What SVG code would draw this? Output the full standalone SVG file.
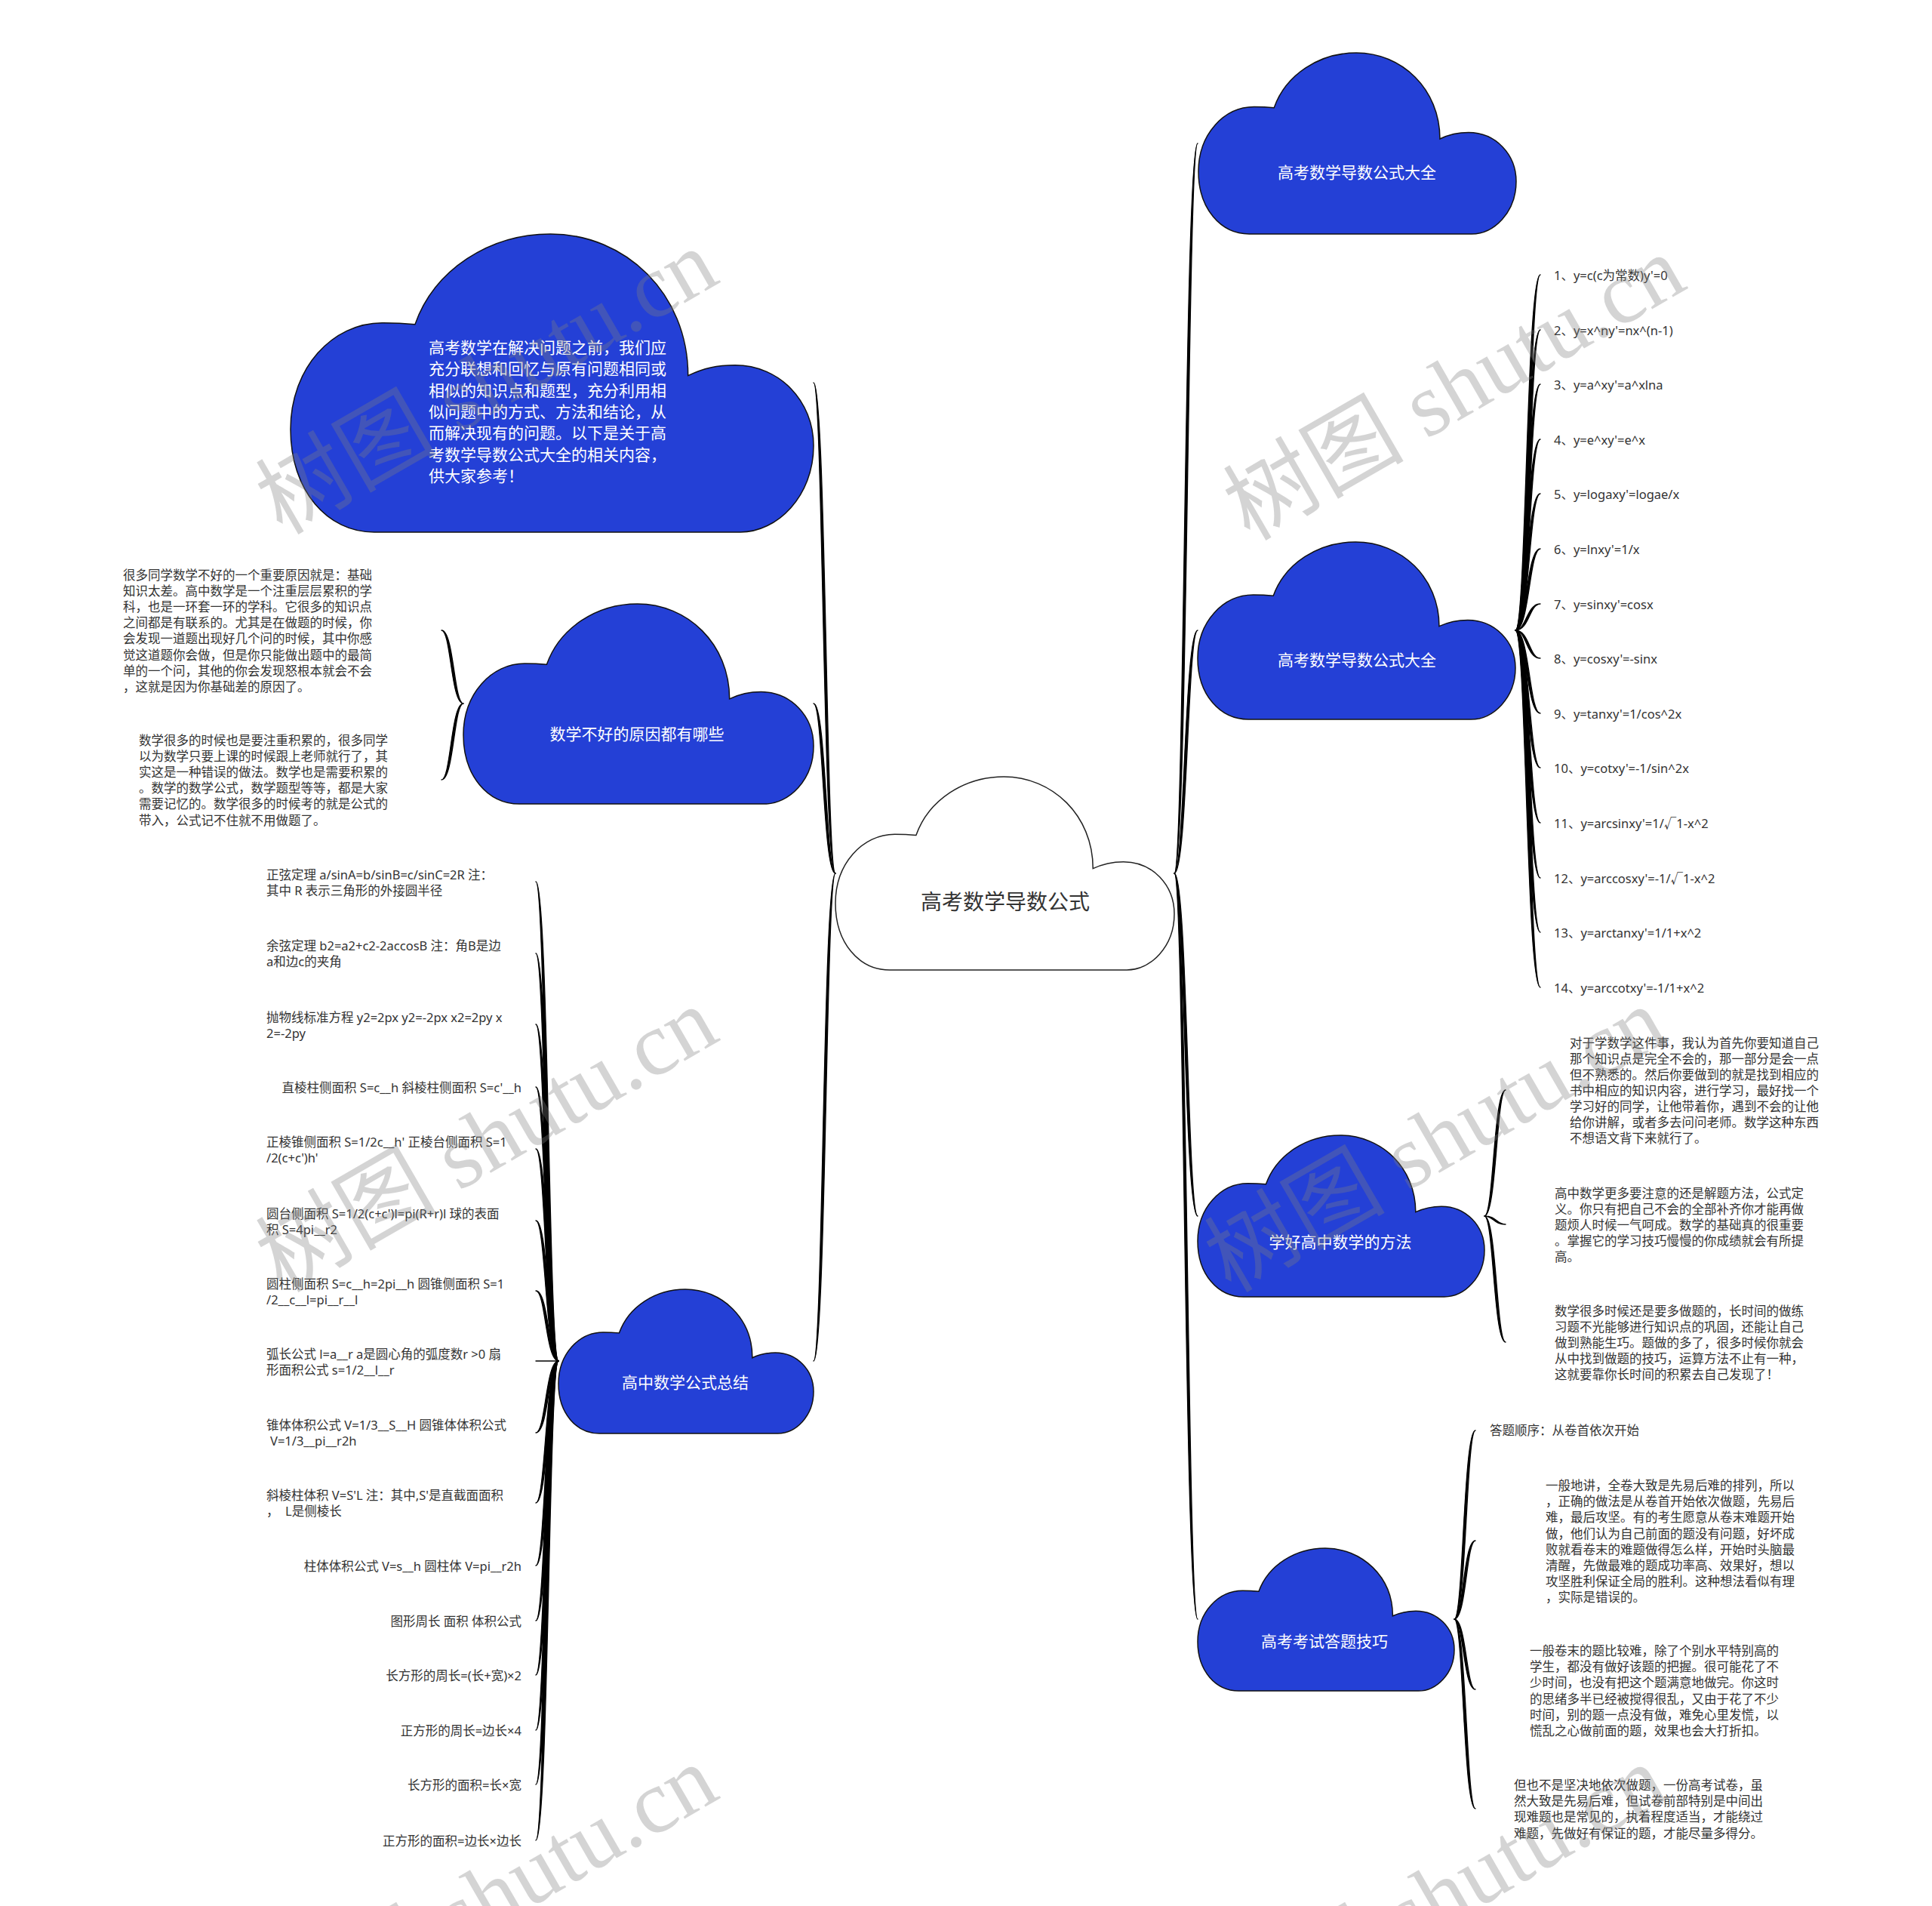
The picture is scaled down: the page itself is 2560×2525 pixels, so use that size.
<svg xmlns="http://www.w3.org/2000/svg" xmlns:xlink="http://www.w3.org/1999/xlink" width="2560" height="2525" viewBox="0 0 2560 2525">
<style>
.t{font-family:'Noto Sans','Noto Sans CJK SC',sans-serif;font-size:16.5px;fill:#333;dominant-baseline:central}
.e{text-anchor:end}
.lb{font-family:'Noto Sans CJK SC','Noto Sans',sans-serif;font-size:21px;fill:#fff;text-anchor:middle;dominant-baseline:central}
.cb{fill:#2440d6;stroke:#111;stroke-width:1.5}
.cw{fill:#fff;stroke:#222;stroke-width:1.5}
.wm{font-family:'Liberation Serif','Noto Sans CJK SC',serif;font-size:120px;fill:#808080;opacity:.33;text-anchor:middle;dominant-baseline:central}
</style>
<defs>
<path id="cloud" vector-effect="non-scaling-stroke" d="M238,303 C275,120 380,0 497,0 C640,0 760,200 760,475 C790,450 815,440 850,440 C935,440 1000,560 1000,710 C1000,880 930,1000 860,1000 L160,1000 C70,1000 0,860 0,655 C0,450 80,298 175,298 C200,298 220,300 238,303 Z"/>
</defs>
<rect width="2560" height="2525" fill="#fff"/>

<g id="connectors" fill="#000" stroke="#000" stroke-width="1.3" stroke-linejoin="round">
<path d="M1107,1157 C1090.5,1157 1090.5,507 1078,507 C1094.5,507 1094.5,1157 1107,1157Z"/>
<path d="M1107,1157 C1090.5,1157 1090.5,932 1078,932 C1094.5,932 1094.5,1157 1107,1157Z"/>
<path d="M1107,1157 C1090.5,1157 1090.5,1803 1078,1803 C1094.5,1803 1094.5,1157 1107,1157Z"/>
<path d="M1556,1157 C1569.5,1157 1569.5,190 1587,190 C1573.5,190 1573.5,1157 1556,1157Z"/>
<path d="M1556,1157 C1569.5,1157 1569.5,835 1587,835 C1573.5,835 1573.5,1157 1556,1157Z"/>
<path d="M1556,1157 C1569.5,1157 1569.5,1611 1587,1611 C1573.5,1611 1573.5,1157 1556,1157Z"/>
<path d="M1556,1157 C1569.5,1157 1569.5,2145 1587,2145 C1573.5,2145 1573.5,1157 1556,1157Z"/>
<path d="M2008,835 C2022.5,835 2022.5,364 2041,364 C2026.5,364 2026.5,835 2008,835Z"/>
<path d="M2008,835 C2022.5,835 2022.5,437 2041,437 C2026.5,437 2026.5,835 2008,835Z"/>
<path d="M2008,835 C2022.5,835 2022.5,509 2041,509 C2026.5,509 2026.5,835 2008,835Z"/>
<path d="M2008,835 C2022.5,835 2022.5,582 2041,582 C2026.5,582 2026.5,835 2008,835Z"/>
<path d="M2008,835 C2022.5,835 2022.5,654 2041,654 C2026.5,654 2026.5,835 2008,835Z"/>
<path d="M2008,835 C2022.5,835 2022.5,727 2041,727 C2026.5,727 2026.5,835 2008,835Z"/>
<path d="M2008,835 C2022.5,835 2022.5,800 2041,800 C2026.5,800 2026.5,835 2008,835Z"/>
<path d="M2008,835 C2022.5,835 2022.5,872 2041,872 C2026.5,872 2026.5,835 2008,835Z"/>
<path d="M2008,835 C2022.5,835 2022.5,945 2041,945 C2026.5,945 2026.5,835 2008,835Z"/>
<path d="M2008,835 C2022.5,835 2022.5,1017 2041,1017 C2026.5,1017 2026.5,835 2008,835Z"/>
<path d="M2008,835 C2022.5,835 2022.5,1090 2041,1090 C2026.5,1090 2026.5,835 2008,835Z"/>
<path d="M2008,835 C2022.5,835 2022.5,1163 2041,1163 C2026.5,1163 2026.5,835 2008,835Z"/>
<path d="M2008,835 C2022.5,835 2022.5,1235 2041,1235 C2026.5,1235 2026.5,835 2008,835Z"/>
<path d="M2008,835 C2022.5,835 2022.5,1308 2041,1308 C2026.5,1308 2026.5,835 2008,835Z"/>
<path d="M1967,1611 C1979,1611 1979,1444 1995,1444 C1983,1444 1983,1611 1967,1611Z"/>
<path d="M1967,1611 C1979,1611 1979,1622 1995,1622 C1983,1622 1983,1611 1967,1611Z"/>
<path d="M1967,1611 C1979,1611 1979,1778 1995,1778 C1983,1778 1983,1611 1967,1611Z"/>
<path d="M1927,2145 C1939,2145 1939,1895 1955,1895 C1943,1895 1943,2145 1927,2145Z"/>
<path d="M1927,2145 C1939,2145 1939,2041 1955,2041 C1943,2041 1943,2145 1927,2145Z"/>
<path d="M1927,2145 C1939,2145 1939,2238 1955,2238 C1943,2238 1943,2145 1927,2145Z"/>
<path d="M1927,2145 C1939,2145 1939,2396 1955,2396 C1943,2396 1943,2145 1927,2145Z"/>
<path d="M614,932 C597.5,932 597.5,835 585,835 C601.5,835 601.5,932 614,932Z"/>
<path d="M614,932 C597.5,932 597.5,1033 585,1033 C601.5,1033 601.5,932 614,932Z"/>
<path d="M740,1803 C723,1803 723,1168 710,1168 C727,1168 727,1803 740,1803Z"/>
<path d="M740,1803 C723,1803 723,1263 710,1263 C727,1263 727,1803 740,1803Z"/>
<path d="M740,1803 C723,1803 723,1357 710,1357 C727,1357 727,1803 740,1803Z"/>
<path d="M740,1803 C723,1803 723,1440 710,1440 C727,1440 727,1803 740,1803Z"/>
<path d="M740,1803 C723,1803 723,1522 710,1522 C727,1522 727,1803 740,1803Z"/>
<path d="M740,1803 C723,1803 723,1617 710,1617 C727,1617 727,1803 740,1803Z"/>
<path d="M740,1803 C723,1803 723,1710 710,1710 C727,1710 727,1803 740,1803Z"/>
<path d="M740,1803 C723,1803 723,1803 710,1803 C727,1803 727,1803 740,1803Z"/>
<path d="M740,1803 C723,1803 723,1898 710,1898 C727,1898 727,1803 740,1803Z"/>
<path d="M740,1803 C723,1803 723,1991 710,1991 C727,1991 727,1803 740,1803Z"/>
<path d="M740,1803 C723,1803 723,2074 710,2074 C727,2074 727,1803 740,1803Z"/>
<path d="M740,1803 C723,1803 723,2147 710,2147 C727,2147 727,1803 740,1803Z"/>
<path d="M740,1803 C723,1803 723,2219 710,2219 C727,2219 727,1803 740,1803Z"/>
<path d="M740,1803 C723,1803 723,2292 710,2292 C727,2292 727,1803 740,1803Z"/>
<path d="M740,1803 C723,1803 723,2364 710,2364 C727,2364 727,1803 740,1803Z"/>
<path d="M740,1803 C723,1803 723,2438 710,2438 C727,2438 727,1803 740,1803Z"/>
</g>

<g id="root">
<use href="#cloud" class="cw" transform="translate(1107,1029) scale(0.449,0.256)"/>
<text x="1332" y="1193" style="font-family:'Noto Sans CJK SC',sans-serif;font-size:28px;fill:#333;text-anchor:middle;dominant-baseline:central">高考数学导数公式</text>
</g>

<g id="intro">
<use href="#cloud" class="cb" transform="translate(385,310) scale(0.693,0.395)"/>
<text class="lb" style="text-anchor:start" x="568" y="459"><tspan x="568">高考数学在解决问题之前，我们应</tspan><tspan x="568" dy="28.3">充分联想和回忆与原有问题相同或</tspan><tspan x="568" dy="28.3">相似的知识点和题型，充分利用相</tspan><tspan x="568" dy="28.3">似问题中的方式、方法和结论，从</tspan><tspan x="568" dy="28.3">而解决现有的问题。以下是关于高</tspan><tspan x="568" dy="28.3">考数学导数公式大全的相关内容，</tspan><tspan x="568" dy="28.3">供大家参考！</tspan></text>
</g>

<g id="reason">
<use href="#cloud" class="cb" transform="translate(614,800) scale(0.464,0.265)"/>
<text class="lb" x="844" y="971">数学不好的原因都有哪些</text>
</g>
<g id="reason-1">
<text class="t" x="163" y="761"><tspan x="163">很多同学数学不好的一个重要原因就是：基础</tspan><tspan x="163" dy="21.1">知识太差。高中数学是一个注重层层累积的学</tspan><tspan x="163" dy="21.1">科，也是一环套一环的学科。它很多的知识点</tspan><tspan x="163" dy="21.1">之间都是有联系的。尤其是在做题的时候，你</tspan><tspan x="163" dy="21.1">会发现一道题出现好几个问的时候，其中你感</tspan><tspan x="163" dy="21.1">觉这道题你会做，但是你只能做出题中的最简</tspan><tspan x="163" dy="21.1">单的一个问，其他的你会发现怒根本就会不会</tspan><tspan x="163" dy="21.1">，这就是因为你基础差的原因了。</tspan></text>
</g>
<g id="reason-2">
<text class="t" x="184" y="980"><tspan x="184">数学很多的时候也是要注重积累的，很多同学</tspan><tspan x="184" dy="21.1">以为数学只要上课的时候跟上老师就行了，其</tspan><tspan x="184" dy="21.1">实这是一种错误的做法。数学也是需要积累的</tspan><tspan x="184" dy="21.1">。数学的数学公式，数学题型等等，都是大家</tspan><tspan x="184" dy="21.1">需要记忆的。数学很多的时候考的就是公式的</tspan><tspan x="184" dy="21.1">带入，公式记不住就不用做题了。</tspan></text>
</g>

<g id="summary">
<use href="#cloud" class="cb" transform="translate(740,1708) scale(0.338,0.191)"/>
<text class="lb" x="908" y="1830">高中数学公式总结</text>
</g>
<g id="summary-items">
<text class="t" x="353" y="1158"><tspan x="353">正弦定理 a/sinA=b/sinB=c/sinC=2R 注：</tspan><tspan x="353" dy="21">其中 R 表示三角形的外接圆半径</tspan></text>
<text class="t" x="353" y="1252"><tspan x="353">余弦定理 b2=a2+c2-2accosB 注：角B是边</tspan><tspan x="353" dy="21">a和边c的夹角</tspan></text>
<text class="t" x="353" y="1347"><tspan x="353">抛物线标准方程 y2=2px y2=-2px x2=2py x</tspan><tspan x="353" dy="21">2=-2py</tspan></text>
<text class="t e" x="691" y="1440">直棱柱侧面积 S=c__h 斜棱柱侧面积 S=c'__h</text>
<text class="t" x="353" y="1512"><tspan x="353">正棱锥侧面积 S=1/2c__h' 正棱台侧面积 S=1</tspan><tspan x="353" dy="21">/2(c+c')h'</tspan></text>
<text class="t" x="353" y="1607"><tspan x="353">圆台侧面积 S=1/2(c+c')l=pi(R+r)l 球的表面</tspan><tspan x="353" dy="21">积 S=4pi__r2</tspan></text>
<text class="t" x="353" y="1700"><tspan x="353">圆柱侧面积 S=c__h=2pi__h 圆锥侧面积 S=1</tspan><tspan x="353" dy="21">/2__c__l=pi__r__l</tspan></text>
<text class="t" x="353" y="1793"><tspan x="353">弧长公式 l=a__r a是圆心角的弧度数r &gt;0 扇</tspan><tspan x="353" dy="21">形面积公式 s=1/2__l__r</tspan></text>
<text class="t" x="353" y="1887"><tspan x="353">锥体体积公式 V=1/3__S__H 圆锥体体积公式</tspan><tspan x="358" dy="21">V=1/3__pi__r2h</tspan></text>
<text class="t" x="353" y="1980" xml:space="preserve"><tspan x="353">斜棱柱体积 V=S'L 注：其中,S'是直截面面积</tspan><tspan x="353" dy="21">，  L是侧棱长</tspan></text>
<text class="t e" x="691" y="2074">柱体体积公式 V=s__h 圆柱体 V=pi__r2h</text>
<text class="t e" x="691" y="2147">图形周长 面积 体积公式</text>
<text class="t e" x="691" y="2219">长方形的周长=(长+宽)×2</text>
<text class="t e" x="691" y="2292">正方形的周长=边长×4</text>
<text class="t e" x="691" y="2364">长方形的面积=长×宽</text>
<text class="t e" x="691" y="2438">正方形的面积=边长×边长</text>
</g>

<g id="daquan-1">
<use href="#cloud" class="cb" transform="translate(1588,70) scale(0.421,0.240)"/>
<text class="lb" x="1798" y="227">高考数学导数公式大全</text>
</g>

<g id="daquan-2">
<use href="#cloud" class="cb" transform="translate(1587,718) scale(0.421,0.235)"/>
<text class="lb" x="1798" y="873">高考数学导数公式大全</text>
</g>
<g id="formulas">
<text class="t" x="2059" y="364">1、y=c(c为常数)y'=0</text>
<text class="t" x="2059" y="437">2、y=x^ny'=nx^(n-1)</text>
<text class="t" x="2059" y="509">3、y=a^xy'=a^xlna</text>
<text class="t" x="2059" y="582">4、y=e^xy'=e^x</text>
<text class="t" x="2059" y="654">5、y=logaxy'=logae/x</text>
<text class="t" x="2059" y="727">6、y=lnxy'=1/x</text>
<text class="t" x="2059" y="800">7、y=sinxy'=cosx</text>
<text class="t" x="2059" y="872">8、y=cosxy'=-sinx</text>
<text class="t" x="2059" y="945">9、y=tanxy'=1/cos^2x</text>
<text class="t" x="2059" y="1017">10、y=cotxy'=-1/sin^2x</text>
<text class="t" x="2059" y="1090">11、y=arcsinxy'=1/√1-x^2</text>
<text class="t" x="2059" y="1163">12、y=arccosxy'=-1/√1-x^2</text>
<text class="t" x="2059" y="1235">13、y=arctanxy'=1/1+x^2</text>
<text class="t" x="2059" y="1308">14、y=arccotxy'=-1/1+x^2</text>
</g>

<g id="method">
<use href="#cloud" class="cb" transform="translate(1587,1504) scale(0.380,0.214)"/>
<text class="lb" x="1776" y="1644">学好高中数学的方法</text>
</g>
<g id="method-1">
<text class="t" x="2080" y="1381"><tspan x="2080">对于学数学这件事，我认为首先你要知道自己</tspan><tspan x="2080" dy="21">那个知识点是完全不会的，那一部分是会一点</tspan><tspan x="2080" dy="21">但不熟悉的。然后你要做到的就是找到相应的</tspan><tspan x="2080" dy="21">书中相应的知识内容，进行学习，最好找一个</tspan><tspan x="2080" dy="21">学习好的同学，让他带着你，遇到不会的让他</tspan><tspan x="2080" dy="21">给你讲解，或者多去问问老师。数学这种东西</tspan><tspan x="2080" dy="21">不想语文背下来就行了。</tspan></text>
</g>
<g id="method-2">
<text class="t" x="2060" y="1580"><tspan x="2060">高中数学更多要注意的还是解题方法，公式定</tspan><tspan x="2060" dy="21">义。你只有把自己不会的全部补齐你才能再做</tspan><tspan x="2060" dy="21">题烦人时候一气呵成。数学的基础真的很重要</tspan><tspan x="2060" dy="21">。掌握它的学习技巧慢慢的你成绩就会有所提</tspan><tspan x="2060" dy="21">高。</tspan></text>
</g>
<g id="method-3">
<text class="t" x="2060" y="1736"><tspan x="2060">数学很多时候还是要多做题的，长时间的做练</tspan><tspan x="2060" dy="21">习题不光能够进行知识点的巩固，还能让自己</tspan><tspan x="2060" dy="21">做到熟能生巧。题做的多了，很多时候你就会</tspan><tspan x="2060" dy="21">从中找到做题的技巧，运算方法不止有一种，</tspan><tspan x="2060" dy="21">这就要靠你长时间的积累去自己发现了！</tspan></text>
</g>

<g id="exam">
<use href="#cloud" class="cb" transform="translate(1587,2051) scale(0.340,0.189)"/>
<text class="lb" x="1755" y="2173">高考考试答题技巧</text>
</g>
<g id="exam-0">
<text class="t" x="1974" y="1894">答题顺序：从卷首依次开始</text>
</g>
<g id="exam-1">
<text class="t" x="2048" y="1967"><tspan x="2048">一般地讲，全卷大致是先易后难的排列，所以</tspan><tspan x="2048" dy="21.2">，正确的做法是从卷首开始依次做题，先易后</tspan><tspan x="2048" dy="21.2">难，最后攻坚。有的考生愿意从卷末难题开始</tspan><tspan x="2048" dy="21.2">做，他们认为自己前面的题没有问题，好坏成</tspan><tspan x="2048" dy="21.2">败就看卷末的难题做得怎么样，开始时头脑最</tspan><tspan x="2048" dy="21.2">清醒，先做最难的题成功率高、效果好，想以</tspan><tspan x="2048" dy="21.2">攻坚胜利保证全局的胜利。这种想法看似有理</tspan><tspan x="2048" dy="21.2">，实际是错误的。</tspan></text>
</g>
<g id="exam-2">
<text class="t" x="2027" y="2186"><tspan x="2027">一般卷末的题比较难，除了个别水平特别高的</tspan><tspan x="2027" dy="21.2">学生，都没有做好该题的把握。很可能花了不</tspan><tspan x="2027" dy="21.2">少时间，也没有把这个题满意地做完。你这时</tspan><tspan x="2027" dy="21.2">的思绪多半已经被搅得很乱，又由于花了不少</tspan><tspan x="2027" dy="21.2">时间，别的题一点没有做，难免心里发慌，以</tspan><tspan x="2027" dy="21.2">慌乱之心做前面的题，效果也会大打折扣。</tspan></text>
</g>
<g id="exam-3">
<text class="t" x="2006" y="2364"><tspan x="2006">但也不是坚决地依次做题，一份高考试卷，虽</tspan><tspan x="2006" dy="21.2">然大致是先易后难，但试卷前部特别是中间出</tspan><tspan x="2006" dy="21.2">现难题也是常见的，执着程度适当，才能绕过</tspan><tspan x="2006" dy="21.2">难题，先做好有保证的题，才能尽量多得分。</tspan></text>
</g>

<g id="watermarks">
<text class="wm" transform="translate(645,506) rotate(-30)">树图 shutu.cn</text>
<text class="wm" transform="translate(1927,514) rotate(-30)">树图 shutu.cn</text>
<text class="wm" transform="translate(645,1510) rotate(-30)">树图 shutu.cn</text>
<text class="wm" transform="translate(1902,1510) rotate(-30)">树图 shutu.cn</text>
<text class="wm" transform="translate(645,2514) rotate(-30)">树图 shutu.cn</text>
<text class="wm" transform="translate(1902,2514) rotate(-30)">树图 shutu.cn</text>
</g>
</svg>
